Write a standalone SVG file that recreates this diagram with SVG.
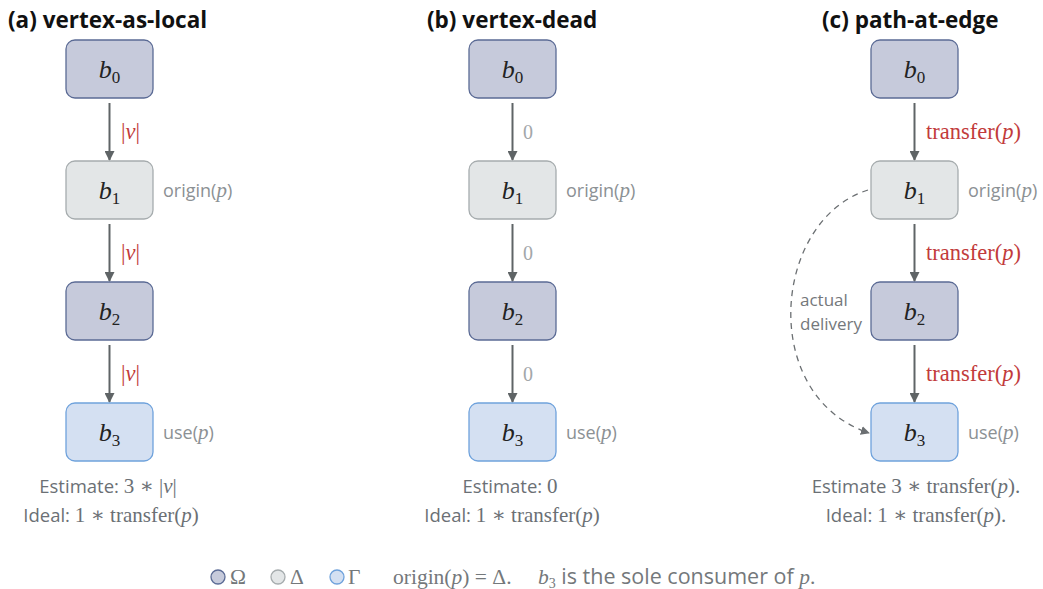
<svg xmlns="http://www.w3.org/2000/svg" width="1043" height="589" viewBox="0 0 1043 589">
  <defs>
    <marker id="arrow" viewBox="0 0 10 10" refX="9" refY="5" markerWidth="10" markerHeight="10" markerUnits="userSpaceOnUse" orient="auto">
      <path d="M0,0 L10,5 L0,10 z" fill="#5f6466"/>
    </marker>
    <marker id="arrowDash" viewBox="0 0 10 10" refX="9" refY="5" markerWidth="9" markerHeight="9" markerUnits="userSpaceOnUse" orient="auto">
      <path d="M0,0 L10,5 L0,10 z" fill="#6b6f72"/>
    </marker>
  </defs>
  <style>
    .title { font-family: "Open Sans", "Noto Sans", sans-serif; font-weight: 700; font-size: 22.5px; fill: #111; }
    .omega { fill: #c6cadb; stroke: #5b6b95; stroke-width: 1.3; }
    .delta { fill: #e3e6e7; stroke: #a6acae; stroke-width: 1.3; }
    .gamma { fill: #d4e0f2; stroke: #6fa2dc; stroke-width: 1.3; }
    .node { font-family: "Liberation Serif", "DejaVu Serif", serif; font-style: italic; font-size: 26px; fill: #222; }
    .sub { font-style: normal; font-size: 17px; }
    .edge { stroke: #5f6466; stroke-width: 2; fill: none; marker-end: url(#arrow); }
    .dash { stroke: #6b6f72; stroke-width: 1.3; fill: none; stroke-dasharray: 6 5; marker-end: url(#arrowDash); }
    .red { font-family: "Liberation Serif", "DejaVu Serif", serif; font-size: 22.5px; fill: #c23b3b; }
    .zero { font-family: "Liberation Serif", "DejaVu Serif", serif; font-size: 20px; fill: #a3a7aa; }
    .side { font-family: "Open Sans", "Noto Sans", sans-serif; font-size: 18px; fill: #8c9194; }
    .note { font-family: "Open Sans", "Noto Sans", sans-serif; font-size: 17px; fill: #74787b; }
    .sum { font-family: "Open Sans", "Noto Sans", sans-serif; font-size: 18.5px; fill: #6b7075; }
    .m { font-family: "Liberation Serif", "DejaVu Serif", serif; font-size: 21px; }
    .mi { font-family: "Liberation Serif", "DejaVu Serif", serif; font-style: italic; font-size: 21px; }
    .leg { font-family: "Liberation Serif", "DejaVu Serif", serif; font-size: 21.5px; fill: #74787b; }
  </style>

  <!-- panel titles -->
  <text class="title" x="8" y="28">(a) vertex-as-local</text>
  <text class="title" x="427" y="28">(b) vertex-dead</text>
  <text class="title" x="822" y="28">(c) path-at-edge</text>

  <!-- connectors -->
  <g id="connectors">
    <line class="edge" x1="109.5" y1="103" x2="109.5" y2="160"/>
    <line class="edge" x1="109.5" y1="224" x2="109.5" y2="281"/>
    <line class="edge" x1="109.5" y1="345" x2="109.5" y2="402"/>
    <line class="edge" x1="512.5" y1="103" x2="512.5" y2="160"/>
    <line class="edge" x1="512.5" y1="224" x2="512.5" y2="281"/>
    <line class="edge" x1="512.5" y1="345" x2="512.5" y2="402"/>
    <line class="edge" x1="914.5" y1="103" x2="914.5" y2="160"/>
    <line class="edge" x1="914.5" y1="224" x2="914.5" y2="281"/>
    <line class="edge" x1="914.5" y1="345" x2="914.5" y2="402"/>
    <path class="dash" d="M868,190 C772,220 758,396 869,433"/>
    <!-- edge labels -->
    <text class="red" x="121" y="139" font-size="23.5"><tspan>|</tspan><tspan font-style="italic">v</tspan><tspan>|</tspan></text>
    <text class="red" x="121" y="260" font-size="23.5"><tspan>|</tspan><tspan font-style="italic">v</tspan><tspan>|</tspan></text>
    <text class="red" x="121" y="381" font-size="23.5"><tspan>|</tspan><tspan font-style="italic">v</tspan><tspan>|</tspan></text>
    <text class="zero" x="523" y="139">0</text>
    <text class="zero" x="523" y="260">0</text>
    <text class="zero" x="523" y="381">0</text>
    <text class="red" x="926" y="139">transfer(<tspan font-style="italic">p</tspan>)</text>
    <text class="red" x="926" y="260">transfer(<tspan font-style="italic">p</tspan>)</text>
    <text class="red" x="926" y="381">transfer(<tspan font-style="italic">p</tspan>)</text>
    <text class="note" x="800" y="306">actual</text>
    <text class="note" x="800" y="330">delivery</text>
  </g>

  <!-- panel (a) -->
  <g id="a-b0"><rect class="omega" x="66" y="40" width="87" height="58" rx="9"/><text class="node" x="109.5" y="78" text-anchor="middle">b<tspan class="sub" dy="5">0</tspan></text></g>
  <g id="a-b1"><rect class="delta" x="66" y="161" width="87" height="58" rx="9"/><text class="node" x="109.5" y="199" text-anchor="middle">b<tspan class="sub" dy="5">1</tspan></text><text class="side" x="163" y="197">origin(<tspan class="mi" font-size="19">p</tspan>)</text></g>
  <g id="a-b2"><rect class="omega" x="66" y="282" width="87" height="58" rx="9"/><text class="node" x="109.5" y="320" text-anchor="middle">b<tspan class="sub" dy="5">2</tspan></text></g>
  <g id="a-b3"><rect class="gamma" x="66" y="403" width="87" height="58" rx="9"/><text class="node" x="109.5" y="441" text-anchor="middle">b<tspan class="sub" dy="5">3</tspan></text><text class="side" x="163" y="439">use(<tspan class="mi" font-size="19">p</tspan>)</text></g>
  <g id="a-summary">
    <text class="sum" x="108" y="493" text-anchor="middle">Estimate: <tspan class="m">3 ∗ |</tspan><tspan class="mi">v</tspan><tspan class="m">|</tspan></text>
    <text class="sum" x="111" y="522" text-anchor="middle">Ideal: <tspan class="m">1 ∗ transfer(</tspan><tspan class="mi">p</tspan><tspan class="m">)</tspan></text>
  </g>

  <!-- panel (b) -->
  <g id="b-b0"><rect class="omega" x="469" y="40" width="87" height="58" rx="9"/><text class="node" x="512.5" y="78" text-anchor="middle">b<tspan class="sub" dy="5">0</tspan></text></g>
  <g id="b-b1"><rect class="delta" x="469" y="161" width="87" height="58" rx="9"/><text class="node" x="512.5" y="199" text-anchor="middle">b<tspan class="sub" dy="5">1</tspan></text><text class="side" x="566" y="197">origin(<tspan class="mi" font-size="19">p</tspan>)</text></g>
  <g id="b-b2"><rect class="omega" x="469" y="282" width="87" height="58" rx="9"/><text class="node" x="512.5" y="320" text-anchor="middle">b<tspan class="sub" dy="5">2</tspan></text></g>
  <g id="b-b3"><rect class="gamma" x="469" y="403" width="87" height="58" rx="9"/><text class="node" x="512.5" y="441" text-anchor="middle">b<tspan class="sub" dy="5">3</tspan></text><text class="side" x="566" y="439">use(<tspan class="mi" font-size="19">p</tspan>)</text></g>
  <g id="b-summary">
    <text class="sum" x="510" y="493" text-anchor="middle">Estimate: <tspan class="m">0</tspan></text>
    <text class="sum" x="512" y="522" text-anchor="middle">Ideal: <tspan class="m">1 ∗ transfer(</tspan><tspan class="mi">p</tspan><tspan class="m">)</tspan></text>
  </g>

  <!-- panel (c) -->
  <g id="c-b0"><rect class="omega" x="871" y="40" width="87" height="58" rx="9"/><text class="node" x="914.5" y="78" text-anchor="middle">b<tspan class="sub" dy="5">0</tspan></text></g>
  <g id="c-b1"><rect class="delta" x="871" y="161" width="87" height="58" rx="9"/><text class="node" x="914.5" y="199" text-anchor="middle">b<tspan class="sub" dy="5">1</tspan></text><text class="side" x="968" y="197">origin(<tspan class="mi" font-size="19">p</tspan>)</text></g>
  <g id="c-b2"><rect class="omega" x="871" y="282" width="87" height="58" rx="9"/><text class="node" x="914.5" y="320" text-anchor="middle">b<tspan class="sub" dy="5">2</tspan></text></g>
  <g id="c-b3"><rect class="gamma" x="871" y="403" width="87" height="58" rx="9"/><text class="node" x="914.5" y="441" text-anchor="middle">b<tspan class="sub" dy="5">3</tspan></text><text class="side" x="968" y="439">use(<tspan class="mi" font-size="19">p</tspan>)</text></g>
  <g id="c-summary">
    <text class="sum" x="916" y="493" text-anchor="middle">Estimate <tspan class="m">3 ∗ transfer(</tspan><tspan class="mi">p</tspan><tspan class="m">).</tspan></text>
    <text class="sum" x="916" y="522" text-anchor="middle">Ideal: <tspan class="m">1 ∗ transfer(</tspan><tspan class="mi">p</tspan><tspan class="m">).</tspan></text>
  </g>

  <!-- legend -->
  <g id="legend">
    <circle class="omega" cx="218" cy="577" r="7"/>
    <text class="leg" x="230" y="584">Ω</text>
    <circle class="delta" cx="278" cy="577" r="7"/>
    <text class="leg" x="290" y="584">Δ</text>
    <circle class="gamma" cx="337" cy="577" r="7"/>
    <text class="leg" x="348" y="584">Γ</text>
    <text class="leg" x="393" y="584">origin(<tspan font-style="italic">p</tspan>) = Δ.</text>
    <text class="leg" x="538" y="584"><tspan font-style="italic">b</tspan><tspan font-size="14" dy="4">3</tspan><tspan dy="-4" font-family="Open Sans, Noto Sans, sans-serif" font-size="21.5"> is the sole consumer of </tspan><tspan font-style="italic">p</tspan>.</text>
  </g>
</svg>
